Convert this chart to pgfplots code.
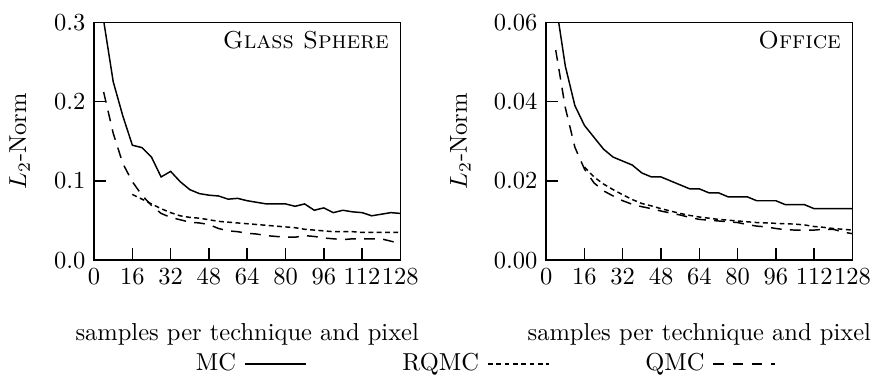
\documentclass[border=0pt]{standalone}
\usepackage{pgfplots}
\pgfplotsset{compat=1.18}
\usepackage{pgfplotstable}

\pgfplotstableread{
x y
4 0.302
8 0.225
12 0.182
16 0.145
20 0.142
24 0.130
28 0.105
32 0.112
36 0.099
40 0.089
44 0.084
48 0.082
52 0.081
56 0.077
60 0.078
64 0.075
68 0.073
72 0.071
76 0.071
80 0.071
84 0.068
88 0.071
92 0.063
96 0.066
100 0.060
104 0.063
108 0.061
112 0.060
116 0.056
120 0.058
124 0.060
128 0.059
}\glassMC

\pgfplotstableread{
x y
16 0.083
20 0.077
24 0.071
28 0.065
32 0.060
36 0.056
40 0.054
44 0.053
48 0.051
52 0.049
56 0.048
60 0.047
64 0.046
68 0.045
72 0.044
76 0.043
80 0.042
84 0.041
88 0.039
92 0.038
96 0.037
100 0.036
104 0.036
108 0.036
112 0.035
116 0.035
120 0.035
124 0.035
128 0.035
}\glassRQMC

\pgfplotstableread{
x y
4 0.212
8 0.160
12 0.122
16 0.099
20 0.082
24 0.069
28 0.059
32 0.054
36 0.051
40 0.048
44 0.047
48 0.045
52 0.040
56 0.037
60 0.036
64 0.034
68 0.033
72 0.031
76 0.030
80 0.029
84 0.029
88 0.031
92 0.030
96 0.028
100 0.027
104 0.026
108 0.027
112 0.027
116 0.027
120 0.027
124 0.024
128 0.021
}\glassQMC

\pgfplotstableread{
x y
4 0.065
8 0.049
12 0.039
16 0.034
20 0.031
24 0.028
28 0.026
32 0.025
36 0.024
40 0.022
44 0.021
48 0.021
52 0.020
56 0.019
60 0.018
64 0.018
68 0.017
72 0.017
76 0.016
80 0.016
84 0.016
88 0.015
92 0.015
96 0.015
100 0.014
104 0.014
108 0.014
112 0.013
116 0.013
120 0.013
124 0.013
128 0.013
}\officeMC

\pgfplotstableread{
x y
16 0.0235
20 0.0210
24 0.0192
28 0.0178
32 0.0165
36 0.0153
40 0.0143
44 0.0137
48 0.0130
52 0.0124
56 0.0118
60 0.0113
64 0.0109
68 0.0106
72 0.0103
76 0.0101
80 0.0099
84 0.0097
88 0.0095
92 0.0094
96 0.0093
100 0.0092
104 0.0091
108 0.0089
112 0.0085
116 0.0083
120 0.0080
124 0.0078
128 0.0076
}\officeRQMC

\pgfplotstableread{
x y
4 0.053
8 0.0385
12 0.0285
16 0.023
20 0.0195
24 0.0175
28 0.0162
32 0.0150
36 0.0141
40 0.0135
44 0.0130
48 0.0124
52 0.0119
56 0.0114
60 0.0108
64 0.0103
68 0.0101
72 0.0099
76 0.0097
80 0.0095
84 0.0090
88 0.0086
92 0.0084
96 0.0080
100 0.0077
104 0.0076
108 0.0076
112 0.0076
116 0.0078
120 0.0078
124 0.0071
128 0.0067
}\officeQMC

\pgfplotsset{
  myaxis/.style={
    scale only axis,
    width=125pt, height=97.1pt,
    xmin=0, xmax=128, ymin=0,
    xtick={0,16,...,128},
    xtick pos=bottom, ytick pos=left,
    tick align=inside,
    major tick length=5pt,
    axis line style={line width=0.6pt},
    every tick/.style={black, line width=0.6pt},
    scaled y ticks=false,
    xlabel={samples per technique and pixel},
    ylabel={$L_2$-Norm},
    xlabel style={at={(axis description cs:0.5,-0.336)}, anchor=base},
    every axis plot/.append style={line width=0.6pt, black},
  },
  mc/.style={solid},
  rqmc/.style={dash pattern=on 2pt off 1.4pt},
  qmc/.style={dash pattern=on 4.4pt off 3.4pt},
}

\begin{document}
\begin{tikzpicture}
\begin{axis}[myaxis,
  at={(0pt,0pt)}, anchor=south west,
  ymax=0.3, ytick={0,0.1,0.2,0.3},
  yticklabel style={/pgf/number format/.cd, fixed, fixed zerofill, precision=1},
  ylabel style={at={(axis description cs:-0.243,0.5)}, anchor=center},
  legend plot pos=right,
  legend image code/.code={\draw[#1] (0pt,0pt) -- (25pt,0pt);},
  legend style={at={(axis description cs:0.331,-0.437)}, anchor=west,
    draw=none, fill=none, inner sep=0pt, legend columns=3,
    nodes={inner sep=0pt},
    /tikz/every odd column/.append style={column sep=3.3pt},
    /tikz/every even column/.append style={column sep=39pt}},
]
\addplot[mc] table[x=x,y=y] {\glassMC};
\addlegendentry{MC}
\addplot[rqmc] table[x=x,y=y] {\glassRQMC};
\addlegendentry{RQMC}
\addplot[qmc] table[x=x,y=y] {\glassQMC};
\addlegendentry{QMC}
\node[anchor=north east, inner xsep=4.5pt, inner ysep=3.5pt] at (rel axis cs:1,1) {\textsc{Glass Sphere}};
\end{axis}
\begin{axis}[myaxis,
  at={(184.5pt,0pt)}, anchor=south west,
  ymax=0.06, ytick={0,0.02,0.04,0.06},
  yticklabel style={/pgf/number format/.cd, fixed, fixed zerofill, precision=2},
  ylabel style={at={(axis description cs:-0.28,0.5)}, anchor=center},
]
\addplot[mc] table[x=x,y=y] {\officeMC};
\addplot[rqmc] table[x=x,y=y] {\officeRQMC};
\addplot[qmc] table[x=x,y=y] {\officeQMC};
\node[anchor=north east, inner xsep=4.5pt, inner ysep=3.5pt] at (rel axis cs:1,1) {\textsc{Office}};
\end{axis}
\pgfresetboundingbox
\path (-38.4pt,-47.3pt) rectangle (317.9pt,106.2pt);
\end{tikzpicture}
\end{document}
